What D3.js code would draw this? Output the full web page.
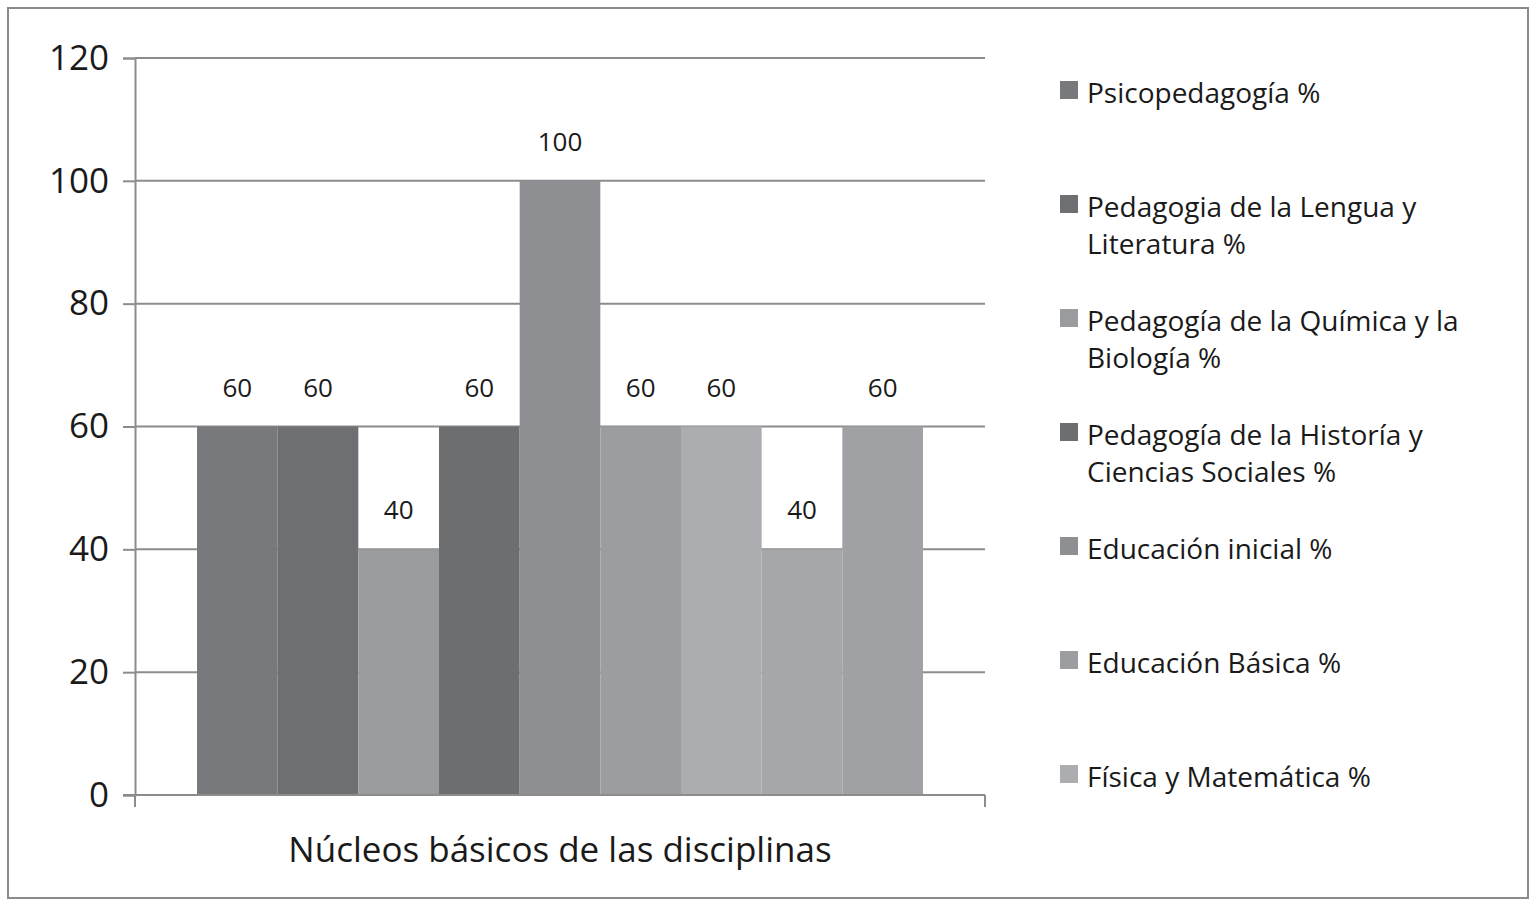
<!DOCTYPE html>
<html>
<head>
<meta charset="utf-8">
<script src="https://cdn.jsdelivr.net/npm/d3@7"></script>
<style>
body { margin: 0; background: #fff; }
text { font-family: "Open Sans", "Noto Sans", sans-serif; fill: #1a1a1a; }
</style>
</head>
<body>
<script>
var svgWidth = 1536;
var svgHeight = 904;

var category = "Núcleos básicos de las disciplinas";
var barValues = [60, 60, 40, 60, 100, 60, 60, 40, 60];
var barColors = ["#78797d", "#6e6f73", "#9a9b9f", "#6d6e70", "#8e8f93", "#9c9da1", "#acadb0", "#a6a7aa", "#a0a1a4"];
var legendLabels = [
    ["Psicopedagogía %"],
    ["Pedagogia de la Lengua y", "Literatura %"],
    ["Pedagogía de la Química y la", "Biología %"],
    ["Pedagogía de la Historía y", "Ciencias Sociales %"],
    ["Educación inicial  %"],
    ["Educación Básica %"],
    ["Física y Matemática %"]
];
var yTicks = [0, 20, 40, 60, 80, 100, 120];

var svg = d3.select("body")
    .append("svg")
    .attr("width", svgWidth)
    .attr("height", svgHeight);

// outer frame
svg.append("rect")
    .attr("x", 8).attr("y", 8)
    .attr("width", 1520).attr("height", 890)
    .attr("fill", "none")
    .attr("stroke", "#8a8a8a")
    .attr("stroke-width", 2);

var plotLeft = 135, plotRight = 985;

var yScale = d3.scaleLinear()
    .domain([0, 120])
    .range([795, 58]);

var xScale = d3.scaleBand()
    .domain(d3.range(barValues.length))
    .range([197, 923])
    .padding(0);

// gridlines
svg.selectAll(".grid")
    .data(yTicks.filter(d => d > 0)).enter()
    .append("line")
    .attr("x1", plotLeft)
    .attr("x2", plotRight)
    .attr("y1", d => yScale(d))
    .attr("y2", d => yScale(d))
    .attr("stroke", "#8c8c8c")
    .attr("stroke-width", 2);

// bars
svg.selectAll(".bar")
    .data(barValues).enter()
    .append("rect")
    .attr("x", (d, i) => xScale(i))
    .attr("y", d => yScale(d))
    .attr("width", xScale.bandwidth())
    .attr("height", d => yScale(0) - yScale(d))
    .attr("fill", (d, i) => barColors[i]);

// data labels
svg.selectAll(".lbl")
    .data(barValues).enter()
    .append("text")
    .attr("x", (d, i) => xScale(i) + xScale.bandwidth() / 2)
    .attr("y", d => yScale(d) - 30)
    .attr("text-anchor", "middle")
    .attr("font-size", 26)
    .text(d => d);

// y axis
var yAxis = svg.append("g")
    .attr("transform", "translate(" + plotLeft + ",0)")
    .call(d3.axisLeft(yScale).tickValues(yTicks).tickSize(12).tickPadding(14));
yAxis.select(".domain").attr("stroke", "#8c8c8c").attr("stroke-width", 2);
yAxis.selectAll(".tick line").attr("stroke", "#8c8c8c").attr("stroke-width", 2);
yAxis.selectAll(".tick text")
    .attr("font-size", 35)
    .attr("fill", "#1a1a1a")
    .style("font-family", "'Open Sans', sans-serif");

// x axis line with end ticks
svg.append("line")
    .attr("x1", plotLeft - 12).attr("x2", plotRight)
    .attr("y1", yScale(0)).attr("y2", yScale(0))
    .attr("stroke", "#8c8c8c").attr("stroke-width", 2);
svg.selectAll(".xtick")
    .data([plotLeft, plotRight]).enter()
    .append("line")
    .attr("x1", d => d).attr("x2", d => d)
    .attr("y1", yScale(0)).attr("y2", yScale(0) + 12)
    .attr("stroke", "#8c8c8c").attr("stroke-width", 2);

svg.append("text")
    .attr("x", (plotLeft + plotRight) / 2)
    .attr("y", 862)
    .attr("text-anchor", "middle")
    .attr("font-size", 35)
    .text(category);

// legend
var legend = svg.selectAll(".legend")
    .data(legendLabels).enter()
    .append("g")
    .attr("transform", (d, i) => "translate(1060," + (93 + i * 114) + ")");

legend.append("rect")
    .attr("x", 0).attr("y", -12)
    .attr("width", 18).attr("height", 18)
    .attr("fill", (d, i) => barColors[i]);

legend.each(function (d) {
    var g = d3.select(this);
    d.forEach((line, j) => {
        g.append("text")
            .attr("x", 27)
            .attr("y", j * 37 + 10)
            .attr("font-size", 28)
            .text(line);
    });
});
</script>
</body>
</html>
